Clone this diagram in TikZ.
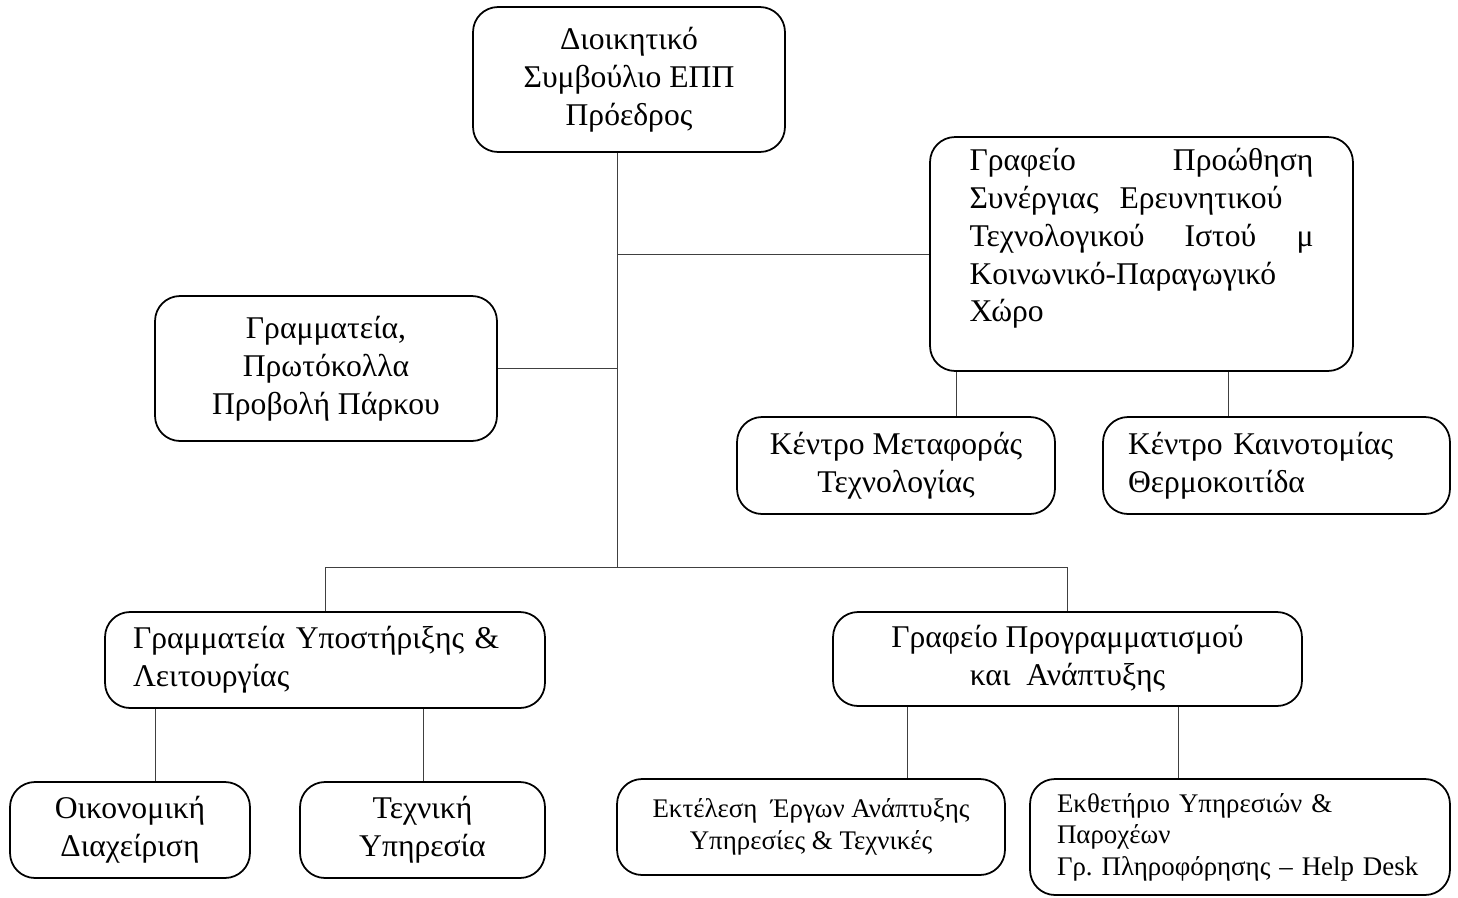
\documentclass[tikz,border=0pt]{standalone}
\usepackage{fontspec}
\setmainfont{Liberation Serif}
\frenchspacing
\begin{document}
\begin{tikzpicture}[x=0.02cm, y=-0.02cm,
  box/.style={draw, line width=1pt, rounded corners=0.5cm, inner sep=0pt, font=\fontsize{18}{21.5}\selectfont},
  smallbox/.style={box, font=\fontsize{15.3}{18}\selectfont},
  link/.style={line width=0.5pt, black!75}]
\useasboundingbox (0,0) rectangle (1458,897);
%% Nodes
\node[box, minimum width=6.24cm, minimum height=2.9cm, align=center](board) at (629,79.5) {Διοικητικό\\Συμβούλιο ΕΠΠ\\Πρόεδρος};
\node[box, minimum width=8.46cm, minimum height=4.68cm, text width=6.88cm, align=left](promo) at (1141.5,254) {\leavevmode\hbox to \hsize{Γραφείο\hfill Προώθηση}\\Συνέργιας\ \ Ερευνητικού\\\leavevmode\hbox to \hsize{Τεχνολογικού\hfill Ιστού\hfill μ}\\Κοινωνικό-Παραγωγικό\\Χώρο\\\mbox{}};
\node[box, minimum width=6.84cm, minimum height=2.9cm, align=center](secret) at (326,368.5) {Γραμματεία,\\Πρωτόκολλα\\Προβολή Πάρκου};
\node[box, minimum width=6.36cm, minimum height=1.94cm, align=center](techtr) at (896,465.5) {Κέντρο Μεταφοράς\\Τεχνολογίας};
\node[box, minimum width=6.94cm, minimum height=1.94cm, text width=5.94cm, align=left](innov) at (1276.5,465.5) {Κέντρο Καινοτομίας\\Θερμοκοιτίδα};
\node[box, minimum width=8.8cm, minimum height=1.92cm, text width=7.68cm, align=left](support) at (325,660) {Γραμματεία Υποστήριξης \&\\Λειτουργίας};
\node[box, minimum width=9.38cm, minimum height=1.88cm, align=center](planning) at (1067.5,659) {Γραφείο Προγραμματισμού\\και\ \ Ανάπτυξης};
\node[box, minimum width=4.8cm, minimum height=1.92cm, align=center](finance) at (130,830) {Οικονομική\\Διαχείριση};
\node[box, minimum width=4.9cm, minimum height=1.92cm, align=center](technical) at (422.5,830) {Τεχνική\\Υπηρεσία};
\node[smallbox, minimum width=7.76cm, minimum height=1.92cm, align=center](projects) at (811,827) {Εκτέλεση\ \ Έργων Ανάπτυξης\\Υπηρεσίες \& Τεχνικές};
\node[smallbox, minimum width=8.4cm, minimum height=2.32cm, text width=7.32cm, align=left](expo) at (1240,837) {Εκθετήριο Υπηρεσιών \&\\Παροχέων\\Γρ. Πληροφόρησης – Help Desk};
%% Lines
\coordinate (trunk) at (617,567);
\coordinate (d1) at (956,0);
\coordinate (d2) at (1228,0);
\coordinate (d3) at (155,0);
\coordinate (d4) at (423,0);
\coordinate (d5) at (907,0);
\coordinate (d6) at (1178,0);
\draw[link] (board.south -| trunk) -- (trunk);
\draw[link] (promo.west -| trunk) -- (promo.west);
\draw[link] (secret.east) -- (secret.east -| trunk);
\draw[link] (support.north) |- (trunk) -| (planning.north);
\draw[link] (promo.south -| d1) -- (techtr.north -| d1);
\draw[link] (promo.south -| d2) -- (innov.north -| d2);
\draw[link] (support.south -| d3) -- (finance.north -| d3);
\draw[link] (support.south -| d4) -- (technical.north -| d4);
\draw[link] (planning.south -| d5) -- (projects.north -| d5);
\draw[link] (planning.south -| d6) -- (expo.north -| d6);
\end{tikzpicture}
\end{document}
